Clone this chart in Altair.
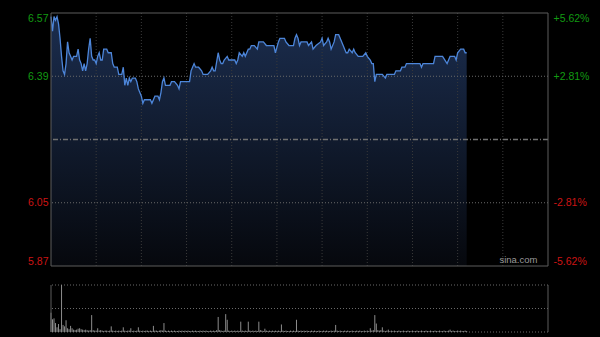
import altair as alt
import pandas as pd

# ---- data (minutes since open, price) ----
minutes = [0, 1, 2, 3, 4, 5, 6, 7, 8, 9, 10, 11, 12, 13, 14, 15, 16, 17, 18, 19,
           20, 21, 22, 23, 24, 25, 26, 27, 28, 29, 30, 31, 32, 33, 34, 35, 37, 38, 40, 41,
           42, 44, 45, 46, 47, 48, 49, 50, 51, 52, 53, 54, 55, 56, 57, 58, 59, 60, 61, 62,
           63, 64, 66, 67, 68, 69, 71, 72, 73, 74, 75, 76, 78, 79, 80, 82, 84, 85, 86, 90,
           92, 93, 95, 96, 98, 100, 101, 102, 104, 106, 107, 108, 109, 111, 112, 113, 114, 115, 117, 118,
           120, 122, 123, 124, 125, 127, 128, 129, 131, 132, 133, 135, 137, 138, 141, 143, 146, 148, 149, 151,
           152, 155, 156, 158, 161, 162, 163, 164, 165, 166, 170, 171, 173, 174, 176, 179, 180, 181, 183, 184,
           185, 186, 188, 189, 191, 192, 194, 195, 196, 197, 198, 200, 201, 202, 204, 207, 209, 210, 212, 213,
           214, 215, 216, 217, 218, 220, 222, 223, 228, 229, 232, 233, 235, 236, 245, 246, 247, 254, 255, 260,
           263, 265, 268, 269, 270, 272, 274, 275, 276]
prices = [6.56, 6.52, 6.56, 6.55, 6.56, 6.54, 6.50, 6.45, 6.41, 6.40, 6.43, 6.49, 6.46, 6.45, 6.44, 6.45, 6.45, 6.45, 6.47, 6.44,
          6.43, 6.41, 6.43, 6.41, 6.43, 6.47, 6.50, 6.45, 6.44, 6.44, 6.43, 6.45, 6.46, 6.44, 6.44, 6.47, 6.47, 6.46, 6.46, 6.43,
          6.42, 6.42, 6.40, 6.40, 6.40, 6.42, 6.37, 6.39, 6.37, 6.39, 6.38, 6.39, 6.39, 6.39, 6.38, 6.36, 6.35, 6.34, 6.32, 6.33,
          6.33, 6.33, 6.33, 6.32, 6.33, 6.34, 6.34, 6.33, 6.35, 6.38, 6.39, 6.37, 6.37, 6.37, 6.38, 6.38, 6.37, 6.36, 6.38, 6.38,
          6.38, 6.41, 6.43, 6.42, 6.42, 6.41, 6.40, 6.40, 6.40, 6.41, 6.42, 6.41, 6.41, 6.46, 6.44, 6.43, 6.43, 6.44, 6.45, 6.44,
          6.44, 6.44, 6.43, 6.44, 6.46, 6.45, 6.46, 6.45, 6.47, 6.47, 6.48, 6.48, 6.47, 6.49, 6.49, 6.48, 6.48, 6.48, 6.46, 6.49,
          6.50, 6.50, 6.49, 6.48, 6.48, 6.50, 6.51, 6.50, 6.48, 6.49, 6.49, 6.48, 6.49, 6.47, 6.48, 6.49, 6.50, 6.48, 6.49, 6.50,
          6.49, 6.47, 6.49, 6.51, 6.51, 6.50, 6.48, 6.47, 6.46, 6.46, 6.47, 6.46, 6.47, 6.46, 6.45, 6.45, 6.46, 6.45, 6.44, 6.43,
          6.43, 6.38, 6.40, 6.40, 6.40, 6.40, 6.39, 6.40, 6.40, 6.41, 6.41, 6.42, 6.42, 6.43, 6.43, 6.42, 6.43, 6.43, 6.45, 6.45,
          6.43, 6.45, 6.45, 6.44, 6.46, 6.47, 6.47, 6.46, 6.46]

# volume per minute (0..276), arbitrary units, max = 100
volume = [41, 27, 29, 19, 10, 17, 6, 100, 15, 12,
          25, 8, 6, 13, 8, 5, 4, 5, 7, 8,
          6, 5, 4, 5, 4, 3, 4, 36, 4, 3,
          3, 8, 3, 4, 3, 2, 3, 3, 2, 3,
          12, 3, 2, 3, 2, 3, 2, 3, 10, 3,
          2, 3, 3, 8, 2, 3, 2, 3, 10, 3,
          2, 3, 2, 3, 3, 2, 3, 2, 13, 3,
          3, 2, 3, 4, 3, 19, 3, 2, 3, 2,
          3, 2, 3, 2, 2, 3, 2, 3, 2, 3,
          2, 3, 2, 2, 3, 2, 3, 2, 2, 3,
          2, 3, 2, 3, 2, 2, 3, 2, 3, 2,
          4, 32, 4, 3, 2, 3, 38, 26, 3, 2,
          3, 2, 3, 2, 3, 2, 22, 3, 2, 3,
          2, 22, 3, 2, 3, 2, 3, 2, 22, 4,
          3, 2, 7, 3, 2, 3, 2, 3, 2, 3,
          2, 3, 2, 16, 3, 2, 3, 2, 2, 3,
          2, 3, 2, 26, 3, 2, 3, 2, 3, 2,
          3, 2, 2, 3, 2, 3, 2, 2, 3, 2,
          2, 3, 2, 3, 2, 2, 3, 2, 3, 15,
          3, 2, 3, 2, 2, 3, 2, 3, 2, 2,
          3, 2, 2, 3, 2, 3, 2, 2, 3, 2,
          3, 2, 8, 3, 4, 36, 18, 4, 3, 4,
          10, 3, 2, 3, 5, 2, 3, 2, 3, 2,
          2, 3, 2, 2, 3, 2, 2, 3, 2, 2,
          3, 2, 2, 3, 2, 2, 3, 2, 2, 3,
          2, 2, 3, 2, 2, 3, 2, 2, 3, 2,
          2, 3, 2, 2, 3, 5, 2, 3, 2, 2,
          3, 2, 3, 2, 2, 3, 2]

PREV_CLOSE = 6.22
Y_DOMAIN = [5.87, 6.57]
X_DOMAIN = [0, 330]
tick_values = [5.87, 6.045, 6.395, 6.57]
left_labels = ["5.87", "6.05", "6.39", "6.57"]
right_labels = ["-5.62%", "-2.81%", "+2.81%", "+5.62%"]
hgrid_values = [6.045, 6.395]
vgrid_minutes = [30, 60, 90, 120, 150, 180, 210, 240, 270, 300]
vol_grid = [0, 50, 100]
VOL_MAX = 100

# ---- layout (pixels) ----
W = 497
PRICE_H = 253
VOL_TOP = 272
VOL_BOTTOM = 319

price_df = pd.DataFrame({"m": minutes, "p": prices, "base": Y_DOMAIN[0]})
vol_df = pd.DataFrame({"m": list(range(len(volume))), "v": volume, "zero": 0})
vgrid_df = pd.DataFrame({"m": vgrid_minutes, "top": Y_DOMAIN[1], "bot": Y_DOMAIN[0]})
hgrid_df = pd.DataFrame({"p": hgrid_values})
pc_df = pd.DataFrame({"p": [PREV_CLOSE]})
tick_df = pd.DataFrame({"p": tick_values})
border_h_df = pd.DataFrame({"p": Y_DOMAIN})
side_df = pd.DataFrame({"m": X_DOMAIN, "top": Y_DOMAIN[1], "bot": Y_DOMAIN[0]})
vside_df = pd.DataFrame({"m": X_DOMAIN, "top": VOL_MAX, "bot": 0})
volgrid_df = pd.DataFrame({"v": vol_grid})
wm_df = pd.DataFrame({"m": [323], "p": [Y_DOMAIN[0]], "t": ["sina.com"]})

FONT = "Liberation Sans"
GREEN = "#129a12"
RED = "#cc1414"
BORDER = "#5c5c5c"

xs = alt.Scale(domain=X_DOMAIN, nice=False, zero=False)
ys = alt.Scale(domain=Y_DOMAIN, nice=False, zero=False, range=[PRICE_H, 0])
vs = alt.Scale(domain=[0, VOL_MAX], nice=False, zero=True, range=[VOL_BOTTOM, VOL_TOP])

vals_js = "[" + ",".join(str(v) for v in tick_values) + "]"
left_js = "[" + ",".join("'" + s + "'" for s in left_labels) + "]"
right_js = "[" + ",".join("'" + s + "'" for s in right_labels) + "]"
label_color = {"condition": {"test": f"datum.value > {PREV_CLOSE}", "value": GREEN}, "value": RED}

left_axis = alt.Axis(orient="left", values=tick_values, labelExpr=f"{left_js}[indexof({vals_js}, datum.value)]",
                     labelColor=label_color, labelFont=FONT, labelFontSize=10.5, labelPadding=3,
                     ticks=False, domain=False, grid=False, title=None, labelFlush=True)
right_axis = alt.Axis(orient="right", values=tick_values, labelExpr=f"{right_js}[indexof({vals_js}, datum.value)]",
                      labelColor=label_color, labelFont=FONT, labelFontSize=10.5, labelPadding=5,
                      ticks=False, domain=False, grid=False, title=None, labelFlush=True)

gradient = alt.Gradient(gradient="linear",
                        stops=[alt.GradientStop(color="#1b2d4e", offset=0),
                               alt.GradientStop(color="#06080d", offset=1)],
                        x1=1, x2=1, y1=0, y2=1)

X = alt.X("m:Q", scale=xs, axis=None)

area = alt.Chart(price_df).mark_area(color=gradient).encode(
    x=X, y=alt.Y("p:Q", scale=ys, axis=left_axis), y2="base:Q")
vgrid = alt.Chart(vgrid_df).mark_rule(color="#3a3a3a", strokeDash=[1, 2], strokeWidth=1).encode(
    x=X, y=alt.Y("top:Q", scale=ys, axis=None), y2="bot:Q")
hgrid = alt.Chart(hgrid_df).mark_rule(color="#6a6a6a", strokeDash=[1, 2], strokeWidth=1).encode(
    y=alt.Y("p:Q", scale=ys, axis=None))
pcline = alt.Chart(pc_df).mark_rule(color="#707070", strokeDash=[5, 2, 1, 2], strokeWidth=1.5).encode(
    y=alt.Y("p:Q", scale=ys, axis=None))
line = alt.Chart(price_df).mark_line(color="#4d86da", strokeWidth=1.3).encode(
    x=X, y=alt.Y("p:Q", scale=ys, axis=None))
border_h = alt.Chart(border_h_df).mark_rule(color=BORDER, strokeWidth=1).encode(
    y=alt.Y("p:Q", scale=ys, axis=None))
border_v = alt.Chart(side_df).mark_rule(color=BORDER, strokeWidth=1).encode(
    x=X, y=alt.Y("top:Q", scale=ys, axis=None), y2="bot:Q")
watermark = alt.Chart(wm_df).mark_text(align="right", baseline="bottom", dy=-1,
                                       color="#9a9a9a", font=FONT, fontSize=9.5).encode(
    x=X, y=alt.Y("p:Q", scale=ys, axis=None), text="t:N")
right = alt.Chart(tick_df).mark_point(opacity=0).encode(
    y=alt.Y("p:Q", scale=ys, axis=right_axis))

vgridh = alt.Chart(volgrid_df).mark_rule(color="#6a6a6a", strokeDash=[1, 2], strokeWidth=1).encode(
    y=alt.Y("v:Q", scale=vs, axis=None))
vbars = alt.Chart(vol_df).mark_rule(color="#8c8c8c", strokeWidth=1).encode(
    x=X, y=alt.Y("v:Q", scale=vs, axis=None), y2="zero:Q")
vsides = alt.Chart(vside_df).mark_rule(color=BORDER, strokeWidth=1).encode(
    x=X, y=alt.Y("top:Q", scale=vs, axis=None), y2="bot:Q")

chart = alt.layer(area, vgrid, hgrid, pcline, line, border_h, border_v, watermark, right,
                  vgridh, vbars, vsides).resolve_scale(y="independent").properties(
    width=W, height=VOL_BOTTOM,
    autosize=alt.AutoSizeParams(type="none"),
    padding={"left": 51, "top": 13, "right": 52, "bottom": 5},
    background="#000000",
).configure_view(stroke=None)

chart.save("out.html", embed_options={"renderer": "svg", "actions": False})
